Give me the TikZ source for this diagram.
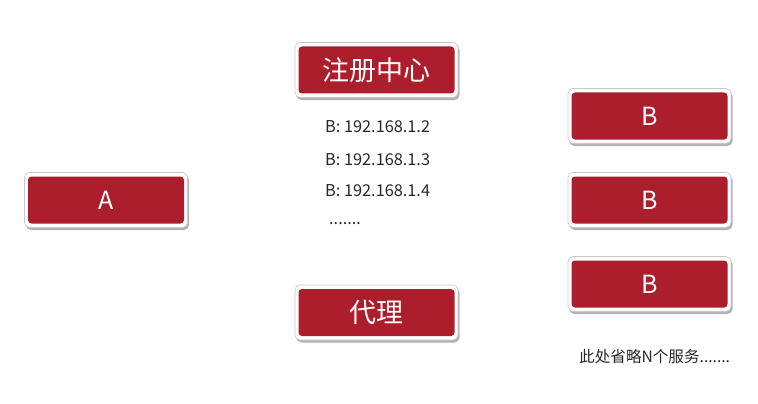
\documentclass[tikz,border=0pt]{standalone}
\usepackage{fontspec}
\setmainfont{Noto Sans CJK SC}
\usetikzlibrary{shadows}
\definecolor{boxred}{RGB}{173,30,45}
\definecolor{txtgray}{RGB}{40,40,40}
\tikzset{
  framebox/.style={draw=black!22, line width=0.6pt, fill=white, rounded corners=5pt,
    minimum width=163pt, minimum height=55pt, inner sep=0pt,
    drop shadow={shadow xshift=1.5pt, shadow yshift=-2.5pt, opacity=0.3, fill=black}},
  redbox/.style={fill=boxred, rounded corners=3.5pt,
    minimum width=156pt, minimum height=47pt, text=white, inner sep=0pt},
  bigtext/.style={font=\fontsize{27}{30}\selectfont},
  midtext/.style={font=\fontsize{25}{28}\selectfont},
  iptext/.style={anchor=west, text=txtgray, font=\fontsize{16.3}{19}\selectfont, inner sep=0pt},
}
\begin{document}
\begin{tikzpicture}[x=1pt, y=-1pt]
\useasboundingbox (0,0) rectangle (758,404);
\fill[white] (0,0) rectangle (758,404);
\node[framebox] (regf) at (376.5,70) {};
\node[redbox, bigtext] (reg) at (regf.center) {注册中心};
\node[framebox] (Af) at (106,200) {};
\node[redbox, midtext] (A) at (Af.center) {A};
\node[framebox] (B1f) at (649.5,116) {};
\node[redbox, midtext] (B1) at (B1f.center) {B};
\node[framebox] (B2f) at (649.5,200) {};
\node[redbox, midtext] (B2) at (B2f.center) {B};
\node[framebox] (B3f) at (649.5,284) {};
\node[redbox, midtext] (B3) at (B3f.center) {B};
\node[framebox] (proxyf) at (376.5,312.5) {};
\node[redbox, bigtext] (proxy) at (proxyf.center) {代理};
\node[iptext] (ip1) at (325,127) {B: 192.168.1.2};
\node[iptext] (ip2) at (325,160) {B: 192.168.1.3};
\node[iptext] (ip3) at (325,191) {B: 192.168.1.4};
\node[iptext] (ipdots) at (329,224) {.......};
\node[iptext, font=\fontsize{15.6}{18}\selectfont] (note) at (579,357) {此处省略N个服务.......};
\end{tikzpicture}
\end{document}
